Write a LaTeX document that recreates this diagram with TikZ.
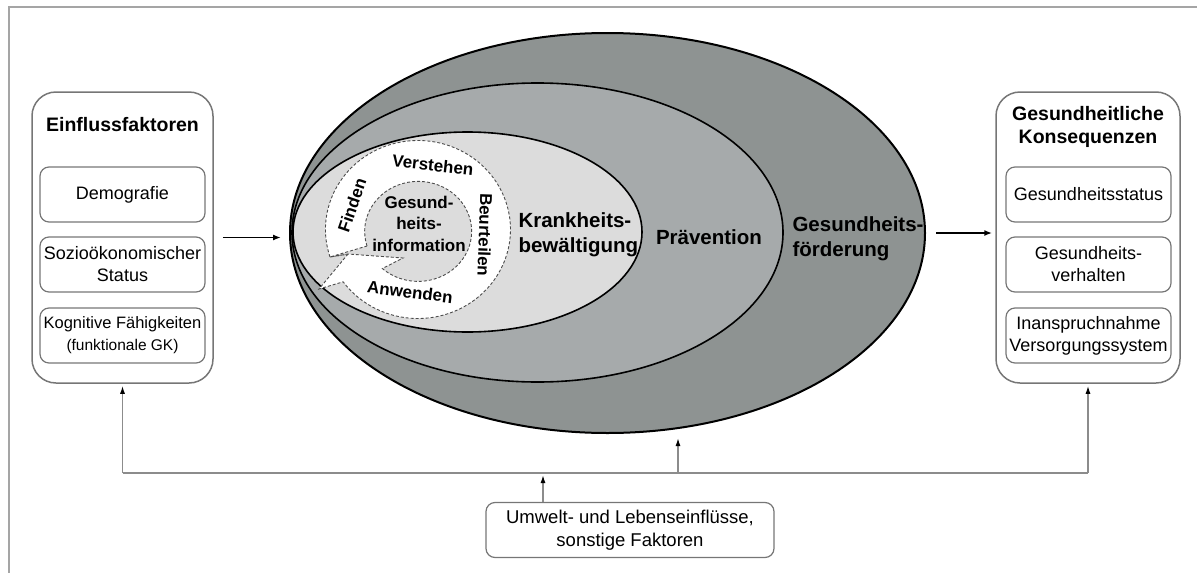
\documentclass[tikz,border=0pt]{standalone}
\usepackage{fontspec}
\setmainfont{Liberation Sans}
\usetikzlibrary{arrows.meta,shapes}

\definecolor{rahmengrau}{RGB}{165,165,165}
\definecolor{kastengrau}{RGB}{118,118,118}
\definecolor{foerdergrau}{RGB}{142,147,146}
\definecolor{praevgrau}{RGB}{166,170,171}
\definecolor{krankgrau}{RGB}{220,220,220}
\definecolor{busgrau}{RGB}{140,140,140}

\begin{document}
\begin{tikzpicture}[x=1pt,y=-1pt,
    kasten/.style={draw=kastengrau,line width=1.5pt,rounded corners=24pt,minimum width=181pt,minimum height=291pt},
    feld/.style={draw=kastengrau,line width=1.2pt,rounded corners=9pt,minimum width=165pt,minimum height=55pt,
        align=center,inner sep=1pt,font=\fontsize{18}{22}\selectfont},
    titel/.style={font=\bfseries\fontsize{19.5}{23}\selectfont,align=center},
    oval/.style={ellipse,draw=black,inner sep=0pt,line width=1.6pt},
    ovaltext/.style={font=\bfseries\fontsize{20.5}{25}\selectfont,align=left},
    blase/.style={draw=black!70,dash pattern=on 3pt off 2pt,line width=0.9pt},
    blasetext/.style={font=\bfseries\fontsize{17}{21.5}\selectfont,inner sep=0.5pt},
    pfeil/.style={-{Latex[length=8pt,width=6pt]},line width=1.6pt},
    bus/.style={draw=busgrau,line width=1.4pt},
    buspfeil/.style={bus,-{Latex[length=8pt,width=5pt,color=black]}}]
\useasboundingbox (0,0) rectangle (1197,573);
\draw[rahmengrau,line width=2pt] (1197,7) -- (9,7) -- (9,573);

% Einflussfaktoren
\node[kasten] (einfluss) at (122.5,237.5) {};
\node[titel] (einflusstitel) at (122.5,125) {Einflussfaktoren};
\node[feld] (demo) at (122.5,194.5) {Demografie};
\node[feld] (sozio) at (122.5,264.5) {Sozioökonomischer\\Status};
\node[feld] (kogn) at (122.5,335.5) {{\fontsize{16.5}{19}\selectfont Kognitive Fähigkeiten}\\{\fontsize{15.5}{19}\selectfont (funktionale GK)}};

% Konsequenzen
\node[kasten,minimum width=184pt] (konsequenz) at (1088,237.5) {};
\node[titel] (konsequenztitel) at (1088,127) {Gesundheitliche\\Konsequenzen};
\node[feld] (status) at (1088.5,194.5) {Gesundheitsstatus};
\node[feld] (verhalten) at (1088.5,264.5) {Gesundheits-\\verhalten};
\node[feld] (versorgung) at (1088.5,335.5) {Inanspruchnahme\\Versorgungssystem};

% Ellipsen
\node[oval,fill=foerdergrau,line width=2pt,minimum width=635pt,minimum height=400pt] (foerderung) at (607.5,233) {};
\node[oval,fill=praevgrau,minimum width=491pt,minimum height=299pt] (praev) at (537.5,232.5) {};
\node[oval,fill=krankgrau,minimum width=349pt,minimum height=200pt] (krank) at (467.5,232) {};
\node[ovaltext,anchor=west] (krankheittext) at (515,235) {Krankheits-\\bewältigung};
\node[ovaltext] (praeventiontext) at (709,237) {Prävention};
\node[ovaltext,anchor=west] (foerdertext) at (789,239) {Gesundheits-\\förderung};

% Sprechblasen
\draw[blase,fill=white] (330,257) arc[start angle=162,end angle=504,x radius=92.5,y radius=89]
    -- (319,289) -- (348,254) -- cycle;
\draw[blase,fill=krankgrau] (367,246) arc[start angle=163,end angle=492,x radius=53.5,y radius=50]
    -- (403,258) -- (348,254) -- (330,257) -- cycle;
\node[blasetext,rotate=71] (finden) at (352,205) {Finden};
\node[blasetext,rotate=-6] (verstehen) at (433,165) {Verstehen};
\node[blasetext,rotate=-92] (beurteilen) at (485,235) {Beurteilen};
\node[blasetext,rotate=-7] (anwenden) at (410,292) {Anwenden};
\node[blasetext,align=center] (info) at (419,223.5) {Gesund-\\heits-\\information};

% Umwelt
\node[feld,minimum width=288pt,font=\fontsize{18.5}{23}\selectfont] (umwelt) at (630,530) {Umwelt- und Lebenseinflüsse,\\sonstige Faktoren};

\draw[pfeil,shorten <=9pt,shorten >=8pt] (einfluss.east) -- (einfluss.east -| foerderung.west);
\draw[pfeil,shorten <=10pt,shorten >=3pt] (foerderung.east) -- (foerderung.east -| konsequenz.west);

\coordinate (bus) at (600,473);
\coordinate (mitte) at (678,473);
\coordinate (unten) at (543,473);
\draw[bus] (einfluss.south |- bus) -- (konsequenz.south |- bus);
\draw[buspfeil,shorten >=2pt] (einfluss.south |- bus) -- (einfluss.south);
\draw[buspfeil,shorten >=2pt] (konsequenz.south |- bus) -- (konsequenz.south);
\draw[buspfeil,shorten >=4pt] (mitte) -- (mitte |- foerderung.south);
\draw[buspfeil,shorten >=2pt] (umwelt.north -| unten) -- (unten);
\end{tikzpicture}
\end{document}
